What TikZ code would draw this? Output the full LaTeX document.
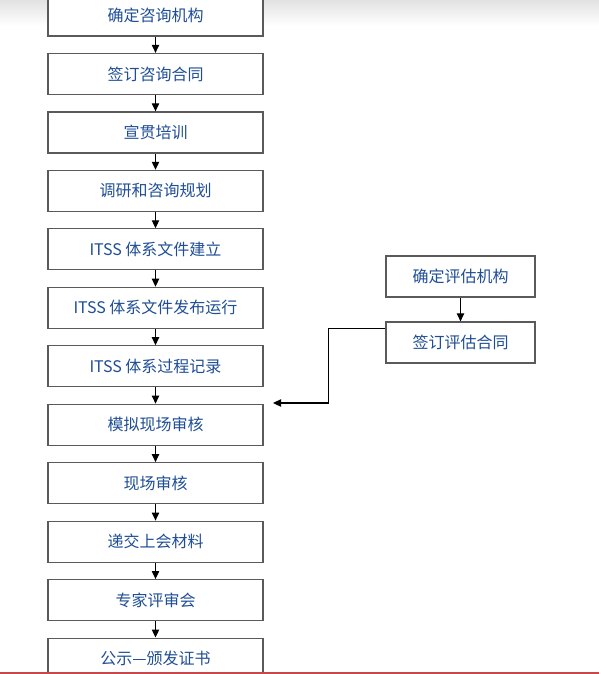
\documentclass[tikz,border=0pt]{standalone}
\usepackage{fontspec}
\setmainfont{Noto Sans CJK SC}
\usepackage{tikz}
\usetikzlibrary{arrows.meta,positioning,calc}
\definecolor{TextBlue}{HTML}{1F4E96}
\definecolor{BoxLine}{HTML}{5A5A5A}
\definecolor{EdgeRed}{HTML}{C8474A}
\definecolor{TopGrey}{HTML}{E2E2E2}

\begin{document}
\begin{tikzpicture}[
  x=0.75pt,y=-0.75pt,
  node distance=12.2pt,
  every node/.style={font=\fontsize{12}{14}\selectfont,align=center,text=TextBlue},
  stage/.style={draw=BoxLine,line width=0.9pt,fill=white,minimum width=161.25pt,minimum height=30.75pt,inner sep=0pt},
  side/.style={draw=BoxLine,line width=0.9pt,fill=white,minimum width=111.75pt,minimum height=30.75pt,inner sep=0pt},
  arr/.style={-{Triangle[length=6pt,width=5.5pt]},line width=0.8pt,black}
]
% page and frame
\useasboundingbox (0,0) rectangle (599,674);
\shade[top color=TopGrey,bottom color=white] (0,0) rectangle (599,26);
\fill[EdgeRed] (0,671.5) rectangle (599,674);
\begin{scope}
\clip (0,0) rectangle (599,671.5);
% main column
\node[stage] (org) at (155.5,15.5) {确定咨询机构};
\node[stage,below=of org] (contract) {签订咨询合同};
\node[stage,below=of contract] (train) {宣贯培训};
\node[stage,below=of train] (plan) {调研和咨询规划};
\node[stage,below=of plan] (docs) {ITSS 体系文件建立};
\node[stage,below=of docs] (release) {ITSS 体系文件发布运行};
\node[stage,below=of release] (record) {ITSS 体系过程记录};
\node[stage,below=of record] (mock) {模拟现场审核};
\node[stage,below=of mock] (audit) {现场审核};
\node[stage,below=of audit] (submit) {递交上会材料};
\node[stage,below=of submit] (review) {专家评审会};
\node[stage,below=of review] (cert) {公示—颁发证书};
% assessment column
\node[side] (evalorg) at (460.5,276.5) {确定评估机构};
\node[side,below=17.85pt of evalorg] (evalcon) {签订评估合同};
\coordinate (entry) at (273,403);
\draw[arr] (org)--(contract); \draw[arr] (contract)--(train); \draw[arr] (train)--(plan);
\draw[arr] (plan)--(docs); \draw[arr] (docs)--(release); \draw[arr] (release)--(record);
\draw[arr] (record)--(mock); \draw[arr] (mock)--(audit); \draw[arr] (audit)--(submit);
\draw[arr] (submit)--(review); \draw[arr] (review)--(cert);
\draw[arr] (evalorg)--(evalcon);
\draw[arr] ([yshift=-5.25pt]evalcon.north west) -- ++(-57,0) |- (entry);
\end{scope}
\end{tikzpicture}
\end{document}
